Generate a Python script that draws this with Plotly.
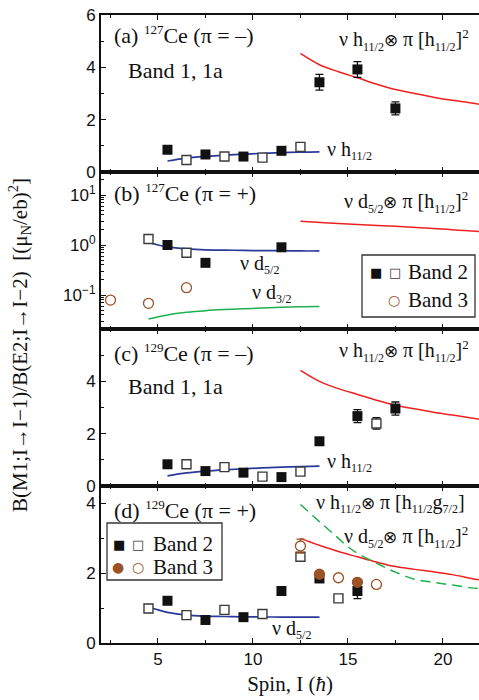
import plotly.graph_objects as go
from plotly.subplots import make_subplots

# ---------------- data ----------------
# Panel (a) 127Ce (pi = -)
a_b2f_x = [5.5, 7.5, 9.5, 11.5, 13.5, 15.5, 17.5]
a_b2f_y = [0.85, 0.67, 0.59, 0.81, 3.43, 3.92, 2.43]
a_b2f_e = [0, 0, 0, 0, 0.30, 0.30, 0.25]
a_b2o_x = [6.5, 8.5, 10.5, 12.5]
a_b2o_y = [0.46, 0.59, 0.55, 0.96]
a_nu_x = [5.5, 6.5, 7.5, 8.5, 9.5, 10.5, 11.5, 12.5, 13.5]
a_nu_y = [0.42, 0.53, 0.60, 0.64, 0.68, 0.71, 0.74, 0.76, 0.77]
a_3q_x = [12.5, 13.5, 14.5, 15.5, 16.5, 17.5, 18.5, 19.5, 20.5, 21.5, 22.0]
a_3q_y = [4.53, 4.10, 3.83, 3.60, 3.36, 3.15, 3.00, 2.86, 2.74, 2.64, 2.58]

# Panel (b) 127Ce (pi = +)
b_b2f_x = [5.5, 7.5, 11.5]
b_b2f_y = [1.00, 0.44, 0.90]
b_b2o_x = [4.5, 6.5]
b_b2o_y = [1.32, 0.70]
b_b3o_x = [2.5, 4.5, 6.5]
b_b3o_y = [0.079, 0.068, 0.14]
b_d52_x = [4.5, 5.0, 5.5, 6.5, 7.5, 8.5, 9.5, 10.5, 11.5, 12.5, 13.5]
b_d52_y = [1.13, 1.00, 0.92, 0.84, 0.80, 0.79, 0.78, 0.77, 0.77, 0.76, 0.76]
b_d32_x = [4.5, 5.5, 6.5, 7.5, 8.5, 9.5, 10.5, 11.5, 12.5, 13.5]
b_d32_y = [0.033, 0.040, 0.045, 0.0485, 0.051, 0.053, 0.055, 0.0566, 0.058, 0.059]
b_3q_x = [12.5, 14.0, 15.5, 17.5, 19.5, 22.0]
b_3q_y = [2.97, 2.75, 2.56, 2.36, 2.15, 1.85]

# Panel (c) 129Ce (pi = -)
c_b2f_x = [5.5, 7.5, 9.5, 11.5, 13.5, 15.5, 17.5]
c_b2f_y = [0.83, 0.57, 0.51, 0.34, 1.71, 2.67, 2.96]
c_b2f_e = [0, 0, 0, 0, 0, 0.25, 0.25]
c_b2o_x = [6.5, 8.5, 10.5, 12.5, 16.5]
c_b2o_y = [0.83, 0.72, 0.36, 0.55, 2.39]
c_b2o_e = [0, 0, 0, 0, 0.22]
c_nu_x = [5.5, 6.5, 7.5, 8.5, 9.5, 10.5, 11.5, 12.5, 13.5]
c_nu_y = [0.39, 0.50, 0.57, 0.62, 0.66, 0.69, 0.72, 0.74, 0.76]
c_3q_x = [12.5, 13.5, 14.5, 15.5, 16.5, 17.5, 18.5, 19.5, 20.5, 21.5, 22.0]
c_3q_y = [4.42, 4.00, 3.72, 3.50, 3.28, 3.09, 2.95, 2.82, 2.71, 2.60, 2.54]

# Panel (d) 129Ce (pi = +)
d_b2f_x = [5.5, 7.5, 9.5, 11.5, 13.5, 15.5]
d_b2f_y = [1.21, 0.66, 0.74, 1.49, 1.85, 1.49]
d_b2f_e = [0, 0, 0, 0, 0, 0.22]
d_b2o_x = [4.5, 6.5, 8.5, 10.5, 12.5, 14.5]
d_b2o_y = [0.99, 0.80, 0.95, 0.83, 2.47, 1.28]
d_b3f_x = [13.5, 15.5]
d_b3f_y = [1.97, 1.74]
d_b3o_x = [12.5, 14.5, 16.5]
d_b3o_y = [2.78, 1.87, 1.68]
d_b3o_e = [0.20, 0, 0]
d_d52_x = [4.5, 5.0, 5.5, 6.5, 7.5, 8.5, 9.5, 10.5, 11.5, 12.5, 13.5]
d_d52_y = [1.04, 0.95, 0.88, 0.80, 0.77, 0.76, 0.75, 0.75, 0.74, 0.74, 0.74]
d_3q_x = [12.5, 13.5, 14.5, 15.5, 16.5, 17.5, 18.5, 19.5, 20.5, 21.5, 22.0]
d_3q_y = [3.00, 2.80, 2.62, 2.47, 2.32, 2.19, 2.11, 2.04, 1.96, 1.85, 1.80]
d_hg_x = [12.5, 13.5, 14.0, 14.5, 15.0, 15.5, 16.5, 17.5, 18.5, 19.5, 20.5, 21.5, 22.0]
d_hg_y = [3.97, 3.48, 3.24, 3.00, 2.76, 2.57, 2.29, 2.03, 1.83, 1.74, 1.66, 1.58, 1.55]

x_ticks = [5, 10, 15, 20]

# ---------------- styles ----------------
BLACK = "#111111"
OPEN_EDGE = "#3a3a3a"
BROWN = "#9a5226"
BLUE = "#2b3a9a"
RED = "#ee2020"
GREEN = "#1db04c"
SERIF = "Liberation Serif, Times New Roman, serif"
SANS = "Liberation Sans, Arial, sans-serif"
SYM = "DejaVu Sans, sans-serif"
MS = 10

fig = make_subplots(rows=4, cols=1, shared_xaxes=True, vertical_spacing=0)


def sq_filled(x, y, row, err=None):
    fig.add_trace(go.Scatter(
        x=x, y=y, mode="markers",
        marker=dict(symbol="square", size=MS, color=BLACK, line=dict(width=0)),
        error_y=dict(type="data", array=err, visible=err is not None,
                     color=BLACK, thickness=1.3, width=4),
        showlegend=False), row=row, col=1)


def sq_open(x, y, row, err=None):
    fig.add_trace(go.Scatter(
        x=x, y=y, mode="markers",
        marker=dict(symbol="square", size=MS - 1, color="white",
                    line=dict(width=1.4, color=OPEN_EDGE)),
        error_y=dict(type="data", array=err, visible=err is not None,
                     color=BLACK, thickness=1.3, width=4),
        showlegend=False), row=row, col=1)


def circ(x, y, row, filled, err=None):
    fig.add_trace(go.Scatter(
        x=x, y=y, mode="markers",
        marker=dict(symbol="circle", size=MS, color=BROWN if filled else "white",
                    line=dict(width=1.3, color=BROWN)),
        error_y=dict(type="data", array=err, visible=err is not None,
                     color=BROWN, thickness=1.3, width=4),
        showlegend=False), row=row, col=1)


def curve(x, y, row, color, dash="solid", width=1.5):
    fig.add_trace(go.Scatter(
        x=x, y=y, mode="lines", line=dict(color=color, width=width, dash=dash, shape="spline"),
        showlegend=False, hoverinfo="skip"), row=row, col=1)


# panel a
curve(a_nu_x, a_nu_y, 1, BLUE, width=1.7)
curve(a_3q_x, a_3q_y, 1, RED)
sq_filled(a_b2f_x, a_b2f_y, 1, a_b2f_e)
sq_open(a_b2o_x, a_b2o_y, 1)
# panel b
curve(b_d52_x, b_d52_y, 2, BLUE, width=1.7)
curve(b_d32_x, b_d32_y, 2, GREEN)
curve(b_3q_x, b_3q_y, 2, RED)
sq_filled(b_b2f_x, b_b2f_y, 2)
sq_open(b_b2o_x, b_b2o_y, 2)
circ(b_b3o_x, b_b3o_y, 2, False)
# panel c
curve(c_nu_x, c_nu_y, 3, BLUE, width=1.7)
curve(c_3q_x, c_3q_y, 3, RED)
sq_filled(c_b2f_x, c_b2f_y, 3, c_b2f_e)
sq_open(c_b2o_x, c_b2o_y, 3, c_b2o_e)
# panel d
curve(d_d52_x, d_d52_y, 4, BLUE, width=1.7)
curve(d_3q_x, d_3q_y, 4, RED)
curve(d_hg_x, d_hg_y, 4, GREEN, dash="10px,6px", width=1.5)
sq_filled(d_b2f_x, d_b2f_y, 4, d_b2f_e)
sq_open(d_b2o_x, d_b2o_y, 4)
circ(d_b3o_x, d_b3o_y, 4, False, d_b3o_e)
circ(d_b3f_x, d_b3f_y, 4, True)

# ---------------- layout ----------------
L, T, W, H = 101, 15, 378, 628
fig.update_layout(
    width=479, height=700,
    margin=dict(l=L, r=0, t=T, b=700 - T - H, pad=0),
    paper_bgcolor="white", plot_bgcolor="white",
    font=dict(family=SANS, size=16, color=BLACK),
)

axis_common = dict(showline=True, linecolor=BLACK, linewidth=2, showgrid=False,
                   zeroline=False, ticks="inside", tickcolor=BLACK, ticklen=5,
                   tickwidth=1.2)
for r in range(1, 5):
    fig.update_xaxes(range=[2, 21.9], tickvals=x_ticks, mirror="ticks",
                     showticklabels=(r == 4),
                     minor=dict(ticks="inside", dtick=2.5, tick0=0, ticklen=3,
                                tickcolor=BLACK, tickwidth=1),
                     tickfont=dict(family=SANS, size=17), row=r, col=1, **axis_common)

fig.update_xaxes(title=dict(text="Spin, I (<i>ħ</i>)", font=dict(family=SERIF, size=21),
                            standoff=8), row=4, col=1)

fig.update_yaxes(range=[0, 6], tickvals=[0, 2, 4, 6],
                 minor=dict(ticks="inside", dtick=1, ticklen=3, tickcolor=BLACK),
                 tickfont=dict(size=17), row=1, col=1, **axis_common)
fig.update_yaxes(type="log", range=[-1.68, 1.46], tickvals=[0.1, 1, 10],
                 ticktext=["10<sup>−1</sup>", "10<sup>0</sup>", "10<sup>1</sup>"],
                 minor=dict(ticks="inside", ticklen=3, tickcolor=BLACK,
                            tickvals=[m * 10 ** e for e in (-2, -1, 0, 1) for m in range(2, 10)]),
                 tickfont=dict(size=17), row=2, col=1, **axis_common)
fig.update_yaxes(range=[0, 6], tickvals=[0, 2, 4],
                 minor=dict(ticks="inside", dtick=1, ticklen=3, tickcolor=BLACK),
                 tickfont=dict(size=17), row=3, col=1, **axis_common)
fig.update_yaxes(range=[0, 4.5], tickvals=[0, 2, 4],
                 minor=dict(ticks="inside", dtick=1, ticklen=3, tickcolor=BLACK),
                 tickfont=dict(size=17), row=4, col=1, **axis_common)


def px(x):
    return (x - L) / W


def py(y):
    return (T + H - y) / H


def label(text, x, y, size=20, anchor="left", family=SERIF, color=BLACK):
    fig.add_annotation(text=text, x=px(x), y=py(y), xref="paper", yref="paper",
                       xanchor=anchor, yanchor="middle", showarrow=False,
                       font=dict(family=family, size=size, color=color))


def sb(t):
    return f'<sub><span style="font-size:12px">{t}</span></sub>'


def sp(t):
    return f'<sup><span style="font-size:13px">{t}</span></sup>'


h112 = "h" + sb("11/2")
d52 = "d" + sb("5/2")
OT = '<span style="font-size:17px">⊗</span>'
# panel a
label(f"(a) {sp('127')}Ce (π = –)", 112, 35, size=22)
label("Band 1, 1a", 126, 70, size=22)
label(f"ν {h112}{OT} π [{h112}]{sp('2')}", 337, 40)
label(f"ν {h112}", 325, 150)
# panel b
label(f"(b) {sp('127')}Ce (π = +)", 112, 193, size=22)
label(f"ν {d52}{OT} π [{h112}]{sp('2')}", 342, 202)
label(f"ν {d52}", 238, 264)
label("ν d" + sb("3/2"), 250, 293)
# panel c
label(f"(c) {sp('129')}Ce (π = –)", 112, 353, size=22)
label("Band 1, 1a", 126, 386, size=22)
label(f"ν {h112}{OT} π [{h112}]{sp('2')}", 337, 351)
label(f"ν {h112}", 325, 462)
# panel d
label(f"(d) {sp('129')}Ce (π = +)", 112, 510, size=22)
label(f"ν {h112}{OT} π [{h112}g{sb('7/2')}]", 314, 503)
label(f"ν {d52}{OT} π [{h112}]{sp('2')}", 342, 537)
label(f"ν {d52}", 270, 629)

# legends (drawn as boxes with text)
fig.add_shape(type="rect", xref="paper", yref="paper", x0=px(362), x1=px(475),
              y0=py(317), y1=py(255), line=dict(color="#333333", width=1.3),
              fillcolor="white", layer="above")
label("■", 376, 272, size=13, anchor="center", family=SYM)
label("□", 395, 272, size=13, anchor="center", family=SYM, color=OPEN_EDGE)
label("Band 2", 406, 272, size=21)
label("○", 394, 300, size=14, anchor="center", family=SYM, color=BROWN)
label("Band 3", 406, 300, size=21)

fig.add_shape(type="rect", xref="paper", yref="paper", x0=px(107), x1=px(222),
              y0=py(580), y1=py(523), line=dict(color="#333333", width=1.3),
              fillcolor="white", layer="above")
label("■", 119, 544, size=13, anchor="center", family=SYM)
label("□", 138, 544, size=13, anchor="center", family=SYM, color=OPEN_EDGE)
label("Band 2", 151, 544, size=21)
label("●", 118, 567, size=14, anchor="center", family=SYM, color=BROWN)
label("○", 138, 567, size=14, anchor="center", family=SYM, color=BROWN)
label("Band 3", 151, 567, size=21)

# y-axis title
fig.add_annotation(text="B(M1;I→I−1)/B(E2;I→I−2)  [(μ<sub>N</sub>/eb)<sup>2</sup>]",
                   x=px(19), y=py(345), xref="paper", yref="paper",
                   xanchor="center", yanchor="middle", textangle=-90, showarrow=False,
                   font=dict(family=SERIF, size=21, color=BLACK))

fig.write_html("out.html")
